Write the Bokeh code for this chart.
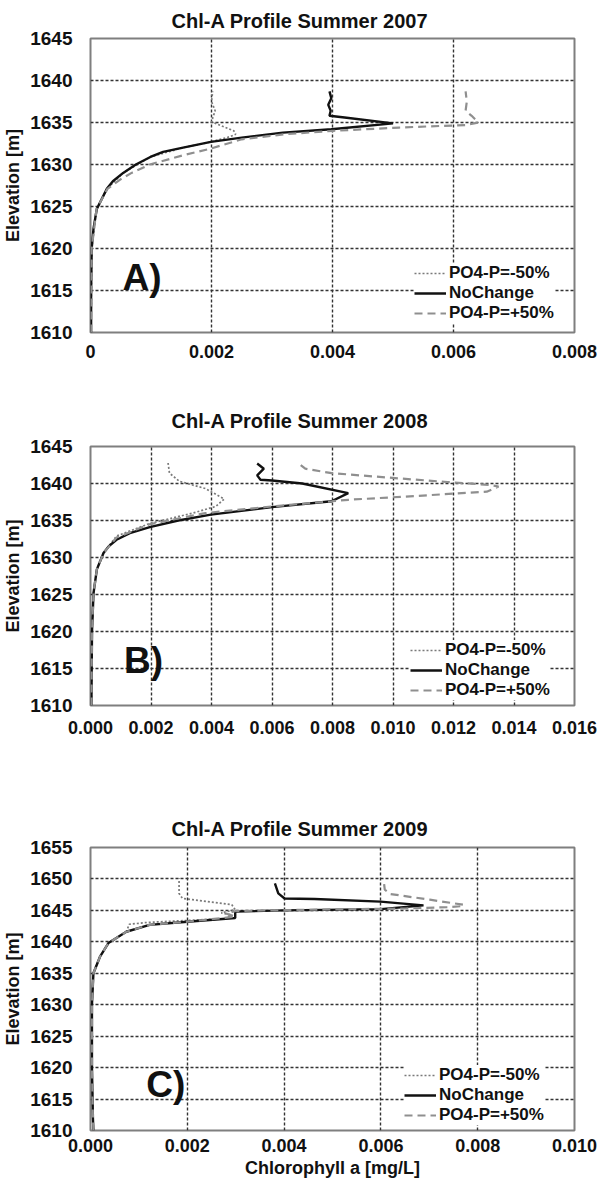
from bokeh.plotting import figure
from bokeh.layouts import column
from bokeh.models import Range1d, FixedTicker, Legend, LegendItem, Title
from bokeh.embed import file_html
from bokeh.resources import INLINE
from bokeh.core.properties import value

FONT = "Liberation Sans"

# ---------------- data ----------------
series_names = ["PO4-P=-50%", "NoChange", "PO4-P=+50%"]
y_label = "Elevation [m]"
x_label = "Chlorophyll a [mg/L]"

# Panel A: Summer 2007
a_title = "Chl-A Profile Summer 2007"
a_xticks = [0, 0.002, 0.004, 0.006, 0.008]
a_xtick_labels = ["0", "0.002", "0.004", "0.006", "0.008"]
a_yticks = [1610, 1615, 1620, 1625, 1630, 1635, 1640, 1645]
a_minus_elev = [1610, 1620, 1624.7, 1627.1, 1629.0, 1630.9, 1632.0, 1632.7, 1633.3, 1633.6, 1634.0, 1635.1, 1636.4, 1637.5, 1638.7]
a_minus_val = [0.00001, 0.00002, 0.0001, 0.00027, 0.00054, 0.00099, 0.00153, 0.00199, 0.0023, 0.0024, 0.00237, 0.0020, 0.00206, 0.00200, 0.00202]
a_none_elev = [1610, 1615, 1620, 1622.4, 1624.7, 1627.1, 1628.0, 1629.0, 1630.0, 1630.9, 1631.5, 1632.0, 1632.7, 1633.2, 1633.8, 1634.2, 1634.9, 1635.6, 1635.8, 1636.4, 1637.1, 1637.9, 1638.7]
a_none_val = [0.00001, 0.00001, 0.00002, 0.00005, 0.000104, 0.00027, 0.00037, 0.00054, 0.00075, 0.00099, 0.0012, 0.00153, 0.00199, 0.0025, 0.00318, 0.00398, 0.00500, 0.0042, 0.00395, 0.00397, 0.00393, 0.00398, 0.00395]
a_plus_elev = [1610, 1620, 1624.7, 1627.1, 1628.2, 1629.0, 1630.0, 1631.1, 1631.9, 1633.0, 1633.6, 1634.0, 1634.4, 1634.7, 1635.0, 1635.8, 1636.4, 1637.5, 1638.7]
a_plus_val = [0.00001, 0.00002, 0.0001, 0.00028, 0.00049, 0.00068, 0.00098, 0.00153, 0.00199, 0.0025, 0.0032, 0.0040, 0.0051, 0.0062, 0.00641, 0.0063, 0.0062, 0.00622, 0.0062]

# Panel B: Summer 2008
b_title = "Chl-A Profile Summer 2008"
b_xticks = [0, 0.002, 0.004, 0.006, 0.008, 0.010, 0.012, 0.014, 0.016]
b_xtick_labels = ["0.000", "0.002", "0.004", "0.006", "0.008", "0.010", "0.012", "0.014", "0.016"]
b_yticks = [1610, 1615, 1620, 1625, 1630, 1635, 1640, 1645]
b_minus_elev = [1610, 1620, 1625.2, 1628.4, 1630.6, 1632.9, 1634.6, 1636.0, 1636.9, 1637.9, 1639.3, 1640.3, 1641.4, 1642.9]
b_minus_val = [0.00003, 0.00005, 0.0001, 0.00021, 0.00043, 0.00086, 0.00196, 0.00338, 0.00414, 0.00442, 0.00381, 0.00294, 0.00261, 0.00256]
b_none_elev = [1610, 1620, 1625.2, 1628.4, 1630.6, 1631.5, 1632.4, 1633.3, 1634.1, 1635.0, 1635.8, 1636.8, 1637.6, 1638.7, 1640.0, 1640.4, 1640.5, 1641.1, 1642.0, 1642.7]
b_none_val = [0.00003, 0.00005, 0.0001, 0.00021, 0.00043, 0.0006, 0.00086, 0.0013, 0.00196, 0.0029, 0.00398, 0.006, 0.00797, 0.00852, 0.0070, 0.006, 0.00562, 0.00551, 0.00573, 0.00551]
b_plus_elev = [1610, 1620, 1625.2, 1628.4, 1630.6, 1632.7, 1634.5, 1636.0, 1636.9, 1637.6, 1637.8, 1638.3, 1638.9, 1639.6, 1639.8, 1640.2, 1640.7, 1641.4, 1642.0, 1642.9]
b_plus_val = [0.00003, 0.00005, 0.0001, 0.00021, 0.00043, 0.00086, 0.00196, 0.0038, 0.006, 0.00797, 0.00852, 0.0107, 0.0131, 0.01349, 0.01322, 0.0118, 0.01016, 0.00797, 0.0071, 0.00682]

# Panel C: Summer 2009
c_title = "Chl-A Profile Summer 2009"
c_xticks = [0, 0.002, 0.004, 0.006, 0.008, 0.010]
c_xtick_labels = ["0.000", "0.002", "0.004", "0.006", "0.008", "0.010"]
c_yticks = [1610, 1615, 1620, 1625, 1630, 1635, 1640, 1645, 1650, 1655]
c_minus_elev = [1610, 1612, 1620, 1630, 1635.0, 1637.7, 1639.8, 1641.6, 1642.8, 1643.1, 1643.4, 1643.7, 1644.3, 1644.6, 1645.1, 1645.9, 1646.7, 1646.9, 1647.7, 1650.1]
c_minus_val = [0.00006, 0.00005, 0.00003, 0.00003, 0.00006, 0.0002, 0.00037, 0.00074, 0.0008, 0.0012, 0.002, 0.0028, 0.0029, 0.0027, 0.00299, 0.00292, 0.00211, 0.0019, 0.00183, 0.00183]
c_none_elev = [1610, 1612, 1620, 1630, 1635.0, 1637.7, 1639.8, 1641.6, 1642.7, 1643.2, 1643.8, 1644.8, 1645.0, 1645.2, 1645.8, 1646.4, 1646.8, 1646.9, 1647.7, 1649.3]
c_none_val = [0.00006, 0.00005, 0.00003, 0.00003, 0.00006, 0.0002, 0.00037, 0.00074, 0.00122, 0.002, 0.00299, 0.00299, 0.004, 0.006, 0.00688, 0.00599, 0.00463, 0.00401, 0.00388, 0.00381]
c_plus_elev = [1610, 1612, 1620, 1630, 1635.0, 1637.7, 1639.8, 1641.6, 1642.7, 1643.2, 1644.0, 1644.5, 1644.9, 1645.1, 1645.3, 1645.5, 1645.7, 1645.9, 1646.7, 1647.6, 1648.3, 1649.6]
c_plus_val = [0.00006, 0.00005, 0.00003, 0.00003, 0.00006, 0.0002, 0.00037, 0.00074, 0.00122, 0.002, 0.00299, 0.0028, 0.0030, 0.0045, 0.0065, 0.00736, 0.00771, 0.0077, 0.00701, 0.0062, 0.00608, 0.00606]


def make_panel(title, xmax, xticks, xlabels, yticks, ymin, ymax, curves, letter, letter_pos,
               height, border_top, border_bottom, border_right, legend_xy,
               tick_standoff, title_standoff, show_xlabel=False):
    p = figure(width=606, height=height, output_backend="svg", toolbar_location=None,
               x_range=Range1d(0, xmax), y_range=Range1d(ymin, ymax),
               min_border_left=89, min_border_right=border_right,
               min_border_top=border_top, min_border_bottom=border_bottom)
    p.title = Title(text=title, align="left", offset=81, text_font=FONT,
                    text_font_size="20px", text_font_style="bold", text_color="#111111",
                    standoff=title_standoff)
    p.background_fill_color = "white"
    p.border_fill_color = "white"
    p.outline_line_color = "#7f7f7f"
    p.outline_line_width = 2

    for ax in (p.xaxis[0], p.yaxis[0]):
        ax.axis_line_color = None
        ax.major_tick_line_color = None
        ax.minor_tick_line_color = None
        ax.major_tick_out = 0
        ax.major_tick_in = 0
        ax.minor_tick_out = 0
        ax.major_label_text_font = FONT
        ax.major_label_text_font_style = "bold"
        ax.major_label_text_color = "#111111"
        ax.axis_label_text_font = FONT
        ax.axis_label_text_font_style = "bold"
        ax.axis_label_text_color = "#111111"

    p.xaxis.ticker = FixedTicker(ticks=xticks)
    p.xaxis.major_label_overrides = {t: l for t, l in zip(xticks, xlabels)}
    p.xaxis.major_label_text_font_size = "18px"
    p.xaxis.major_label_standoff = tick_standoff
    if show_xlabel:
        p.xaxis.axis_label = x_label
        p.xaxis.axis_label_text_font_size = "18px"
        p.xaxis.axis_label_standoff = 3

    p.yaxis.ticker = FixedTicker(ticks=yticks)
    p.yaxis.major_label_overrides = {t: str(t) for t in yticks}
    p.yaxis.major_label_text_font_size = "19px"
    p.yaxis.major_label_standoff = 18
    p.yaxis.axis_label = y_label
    p.yaxis.axis_label_text_font_size = "18px"
    p.yaxis.axis_label_standoff = 4

    for g in (p.xgrid[0], p.ygrid[0]):
        g.grid_line_color = "#333333"
        g.grid_line_width = 1.4
        g.grid_line_dash = "3 2"

    styles = [
        dict(line_color="#7a7a7a", line_width=1.7, line_dash="2 2"),
        dict(line_color="#111111", line_width=2.4),
        dict(line_color="#8f8f8f", line_width=2.2, line_dash="8 5"),
    ]
    items = []
    for name, (xs, ys), st in zip(series_names, curves, styles):
        r = p.line(x=xs, y=ys, **st)
        items.append(LegendItem(label=name, renderers=[r]))

    p.text(x=[letter_pos[0]], y=[letter_pos[1]], text=[letter], text_font=value(FONT),
           text_font_size="37px", text_font_style="bold", text_color="#111111",
           text_baseline="middle", text_align="left")

    leg = Legend(items=items, location=legend_xy, orientation="vertical",
                 label_text_font=FONT, label_text_font_size="17px",
                 label_text_font_style="bold", label_text_color="#111111",
                 glyph_width=32, glyph_height=20, label_height=20, spacing=0,
                 padding=4, margin=0, label_standoff=3,
                 border_line_color=None, background_fill_color="white",
                 background_fill_alpha=1.0)
    p.add_layout(leg, "center")
    return p


pA = make_panel(a_title, 0.008, a_xticks, a_xtick_labels, a_yticks, 1610, 1645,
                [(a_minus_val, a_minus_elev), (a_none_val, a_none_elev), (a_plus_val, a_plus_elev)],
                "A)", (0.00053, 1616.6),
                height=392, border_top=31, border_bottom=60, border_right=32,
                legend_xy=(324, 9), tick_standoff=12, title_standoff=14)

pB = make_panel(b_title, 0.016, b_xticks, b_xtick_labels, b_yticks, 1610, 1645,
                [(b_minus_val, b_minus_elev), (b_none_val, b_none_elev), (b_plus_val, b_plus_elev)],
                "B)", (0.00111, 1616.1),
                height=400, border_top=53, border_bottom=87, border_right=29,
                legend_xy=(320, 5), tick_standoff=15, title_standoff=30)

pC = make_panel(c_title, 0.010, c_xticks, c_xtick_labels, c_yticks, 1610, 1655,
                [(c_minus_val, c_minus_elev), (c_none_val, c_none_elev), (c_plus_val, c_plus_elev)],
                "C)", (0.00115, 1617.3),
                height=390, border_top=55, border_bottom=52, border_right=28,
                legend_xy=(314, 5), tick_standoff=8, title_standoff=16, show_xlabel=True)

layout = column(pA, pB, pC, spacing=0, margin=(0, 0, -8, 0))
open("out.html", "w").write(file_html(layout, INLINE))
